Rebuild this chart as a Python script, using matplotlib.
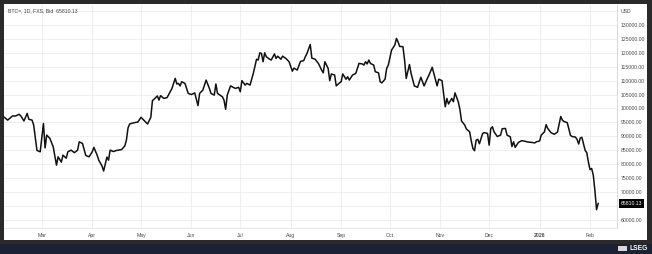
import pandas as pd
import matplotlib.pyplot as plt
from matplotlib.patches import Rectangle
from matplotlib.transforms import blended_transform_factory

# BTC= daily bid
dates = [
    "2025-02-06", "2025-02-08", "2025-02-11", "2025-02-13", "2025-02-15", "2025-02-16",
    "2025-02-18", "2025-02-20", "2025-02-21", "2025-02-23", "2025-02-24", "2025-02-26",
    "2025-02-28", "2025-03-02", "2025-03-03", "2025-03-04", "2025-03-06", "2025-03-08",
    "2025-03-10", "2025-03-11", "2025-03-13", "2025-03-14", "2025-03-16", "2025-03-17",
    "2025-03-19", "2025-03-21", "2025-03-23", "2025-03-24", "2025-03-26", "2025-03-28",
    "2025-03-30", "2025-04-01", "2025-04-02", "2025-04-04", "2025-04-05", "2025-04-07",
    "2025-04-08", "2025-04-10", "2025-04-11", "2025-04-12", "2025-04-14", "2025-04-16",
    "2025-04-19", "2025-04-21", "2025-04-22", "2025-04-23", "2025-04-24", "2025-04-25",
    "2025-04-27", "2025-04-29", "2025-05-01", "2025-05-03", "2025-05-05", "2025-05-07",
    "2025-05-08", "2025-05-09", "2025-05-11", "2025-05-12", "2025-05-13", "2025-05-15",
    "2025-05-17", "2025-05-20", "2025-05-22", "2025-05-23", "2025-05-24", "2025-05-25",
    "2025-05-26", "2025-05-28", "2025-05-30", "2025-06-01", "2025-06-03", "2025-06-05",
    "2025-06-06", "2025-06-08", "2025-06-10", "2025-06-12", "2025-06-13", "2025-06-15",
    "2025-06-16", "2025-06-17", "2025-06-20", "2025-06-21", "2025-06-22", "2025-06-23",
    "2025-06-25", "2025-06-28", "2025-06-30", "2025-07-01", "2025-07-02", "2025-07-04",
    "2025-07-05", "2025-07-07", "2025-07-09", "2025-07-11", "2025-07-12", "2025-07-13",
    "2025-07-14", "2025-07-15", "2025-07-16", "2025-07-17", "2025-07-19", "2025-07-20",
    "2025-07-22", "2025-07-23", "2025-07-24", "2025-07-26", "2025-07-27", "2025-07-29",
    "2025-07-31", "2025-08-02", "2025-08-03", "2025-08-05", "2025-08-07", "2025-08-09",
    "2025-08-10", "2025-08-11", "2025-08-13", "2025-08-14", "2025-08-16", "2025-08-18",
    "2025-08-20", "2025-08-21", "2025-08-22", "2025-08-24", "2025-08-25", "2025-08-26",
    "2025-08-28", "2025-08-29", "2025-08-31", "2025-09-01", "2025-09-02", "2025-09-04",
    "2025-09-05", "2025-09-06", "2025-09-08", "2025-09-10", "2025-09-12", "2025-09-14",
    "2025-09-15", "2025-09-16", "2025-09-17", "2025-09-18", "2025-09-19", "2025-09-21",
    "2025-09-22", "2025-09-24", "2025-09-25", "2025-09-26", "2025-09-28", "2025-09-29",
    "2025-09-30", "2025-10-02", "2025-10-04", "2025-10-05", "2025-10-06", "2025-10-07",
    "2025-10-09", "2025-10-10", "2025-10-11", "2025-10-13", "2025-10-14", "2025-10-16",
    "2025-10-18", "2025-10-20", "2025-10-22", "2025-10-24", "2025-10-25", "2025-10-27",
    "2025-10-28", "2025-10-30", "2025-10-31", "2025-11-02", "2025-11-04", "2025-11-05",
    "2025-11-06", "2025-11-08", "2025-11-09", "2025-11-10", "2025-11-12", "2025-11-13",
    "2025-11-14", "2025-11-16", "2025-11-17", "2025-11-19", "2025-11-20", "2025-11-21",
    "2025-11-22", "2025-11-23", "2025-11-24", "2025-11-25", "2025-11-27", "2025-11-28",
    "2025-11-30", "2025-12-01", "2025-12-02", "2025-12-03", "2025-12-04", "2025-12-06",
    "2025-12-08", "2025-12-09", "2025-12-11", "2025-12-12", "2025-12-14", "2025-12-15",
    "2025-12-16", "2025-12-17", "2025-12-19", "2025-12-21", "2025-12-23", "2025-12-25",
    "2025-12-27", "2025-12-29", "2025-12-30", "2026-01-01", "2026-01-02", "2026-01-04",
    "2026-01-05", "2026-01-06", "2026-01-08", "2026-01-10", "2026-01-12", "2026-01-14",
    "2026-01-15", "2026-01-16", "2026-01-18", "2026-01-20", "2026-01-21", "2026-01-23",
    "2026-01-24", "2026-01-25", "2026-01-26", "2026-01-27", "2026-01-29", "2026-01-30",
    "2026-01-31", "2026-02-01", "2026-02-02", "2026-02-03", "2026-02-04", "2026-02-05",
    "2026-02-06",
]
prices = [
    96800, 95800, 97300, 97300, 97900, 97400,
    95500, 98200, 96100, 95800, 94000, 84900,
    84400, 94600, 85800, 90400, 89200, 86200,
    79600, 82600, 80700, 83200, 82100, 84400,
    85000, 84100, 85000, 88000, 87400, 83100,
    82600, 84400, 86000, 83200, 81400, 79300,
    77500, 82500, 81400, 85000, 84500, 84900,
    85200, 86500, 88600, 93000, 94400, 94600,
    94900, 95100, 96800, 95600, 94400, 96800,
    102800, 103300, 104500, 103000, 104600, 103600,
    103900, 107200, 110800, 108800, 109000, 108100,
    109600, 109000, 105400, 105000, 105600, 101000,
    105400, 106600, 110200, 107200, 105400, 104800,
    108800, 105400, 104200, 103000, 99700, 104800,
    108100, 107200, 107600, 106000, 110000, 108400,
    109000, 108400, 112600, 117700, 117400, 120000,
    119800, 116800, 120000, 118600, 117700, 117400,
    119600, 118000, 118800, 117700, 118800, 118000,
    116800, 113400, 114500, 113800, 116900, 117200,
    118600, 119800, 123000, 118100, 117700, 116200,
    113800, 112800, 116800, 114400, 110000, 112400,
    112000, 108100, 109200, 109600, 112400, 110500,
    111400, 110200, 112000, 112600, 116200, 116000,
    115600, 116800, 116000, 117400, 116200, 115600,
    113200, 112800, 109600, 109200, 110500, 114400,
    115600, 121000, 122800, 125200, 123900, 122300,
    122200, 117400, 110800, 115800, 112600, 108100,
    107600, 111200, 108100, 110800, 112000, 114800,
    112600, 108100, 110500, 110000, 100600, 103600,
    101600, 103600, 102400, 105600, 102400, 99700,
    95500, 94000, 92600, 91600, 88300, 85600,
    84800, 88600, 88900, 87300, 91000, 91300,
    91000, 86800, 92800, 93400, 91600, 89900,
    90400, 92700, 92800, 90400, 89800, 86300,
    88000, 86000, 87800, 88400, 88200, 87900,
    87800, 87600, 88000, 88300, 90400, 91600,
    94200, 92800, 91300, 90700, 91500, 97100,
    95800, 95300, 94900, 90300, 89900, 89700,
    88900, 87200, 89400, 89600, 84900, 84100,
    80700, 78000, 78400, 76000, 70500, 63600,
    65810.13,
]
last_price = 65810.13
title = "BTC=, 1D, FXS, Bid  65810.13"

month_starts = ["2025-03-01", "2025-04-01", "2025-05-01", "2025-06-01", "2025-07-01",
                "2025-08-01", "2025-09-01", "2025-10-01", "2025-11-01", "2025-12-01",
                "2026-01-01", "2026-02-01"]
month_labels = ["Mar", "Apr", "May", "Jun", "Jul", "Aug", "Sep", "Oct", "Nov", "Dec",
                "2026", "Feb"]
price_ticks = list(range(60000, 135001, 5000))

plt.rcParams['font.family'] = ['Liberation Sans', 'DejaVu Sans']

W, H = 652, 254
fig = plt.figure(figsize=(W / 100, H / 100), dpi=100, facecolor='#2a2a2a')
# navy footer and white panel
fig.add_artist(Rectangle((0, 0), 1, 10 / H, transform=fig.transFigure,
                         facecolor='#1c2232', edgecolor='none', zorder=-2))
fig.add_artist(Rectangle((4 / W, 14 / H), 643 / W, 236 / H, transform=fig.transFigure,
                         facecolor='white', edgecolor='none', zorder=-1))

ax = fig.add_axes([4 / W, 26 / H, 613 / W, 223 / H])
ax.set_facecolor('white')

x = pd.to_datetime(dates)
ax.plot(x, prices, color='#111111', lw=1.1, solid_joinstyle='round')

ax.set_xlim(pd.Timestamp("2025-02-05 18:00"), pd.Timestamp("2026-02-17 14:00"))
ax.set_ylim(57000, 137200)

ax.set_xticks(pd.to_datetime(month_starts))
ax.set_xticklabels(month_labels)
ax.set_yticks(price_ticks)
ylabels = []
for t in price_ticks:
    if t == 135000:
        ylabels.append("USD")
    elif t == 65000:
        ylabels.append("")
    else:
        ylabels.append(f"{t:.2f}")
ax.set_yticklabels(ylabels)
ax.yaxis.tick_right()

ax.tick_params(axis='x', length=0, pad=3.6, labelsize=3.7, labelcolor='#4a4a4a')
ax.tick_params(axis='y', length=0, pad=2.8, labelsize=3.7, labelcolor='#4a4a4a')
for lab in ax.get_xticklabels():
    if lab.get_text() == "2026":
        lab.set_fontweight('bold')

ax.grid(True, color='#ececec', lw=0.6)
ax.set_axisbelow(True)
for side in ['top', 'left']:
    ax.spines[side].set_visible(False)
ax.spines['right'].set_color('#d2d2d2')
ax.spines['right'].set_linewidth(0.6)
ax.spines['bottom'].set_color('#e2e2e2')
ax.spines['bottom'].set_linewidth(0.6)

# last price tag on the right scale
trans = blended_transform_factory(ax.transAxes, ax.transData)
ax.text(1 + 3.5 / 613, last_price, f"{last_price:.2f}", transform=trans,
        ha='left', va='center', color='white', fontsize=3.7, clip_on=False,
        bbox=dict(boxstyle='square,pad=0.35', fc='black', ec='none'))

fig.text(8 / W, (H - 11) / H, title, ha='left', va='center', fontsize=3.7, color='#404040')

# LSEG mark in the footer
fig.add_artist(Rectangle((618 / W, 3 / H), 9 / W, 5 / H, transform=fig.transFigure,
                         facecolor='#d8d8d8', edgecolor='none'))
fig.text(630 / W, 5.5 / H, "LSEG", ha='left', va='center', fontsize=4.8,
         fontweight='bold', color='white')

fig.savefig("out.png", dpi=100, facecolor=fig.get_facecolor())
